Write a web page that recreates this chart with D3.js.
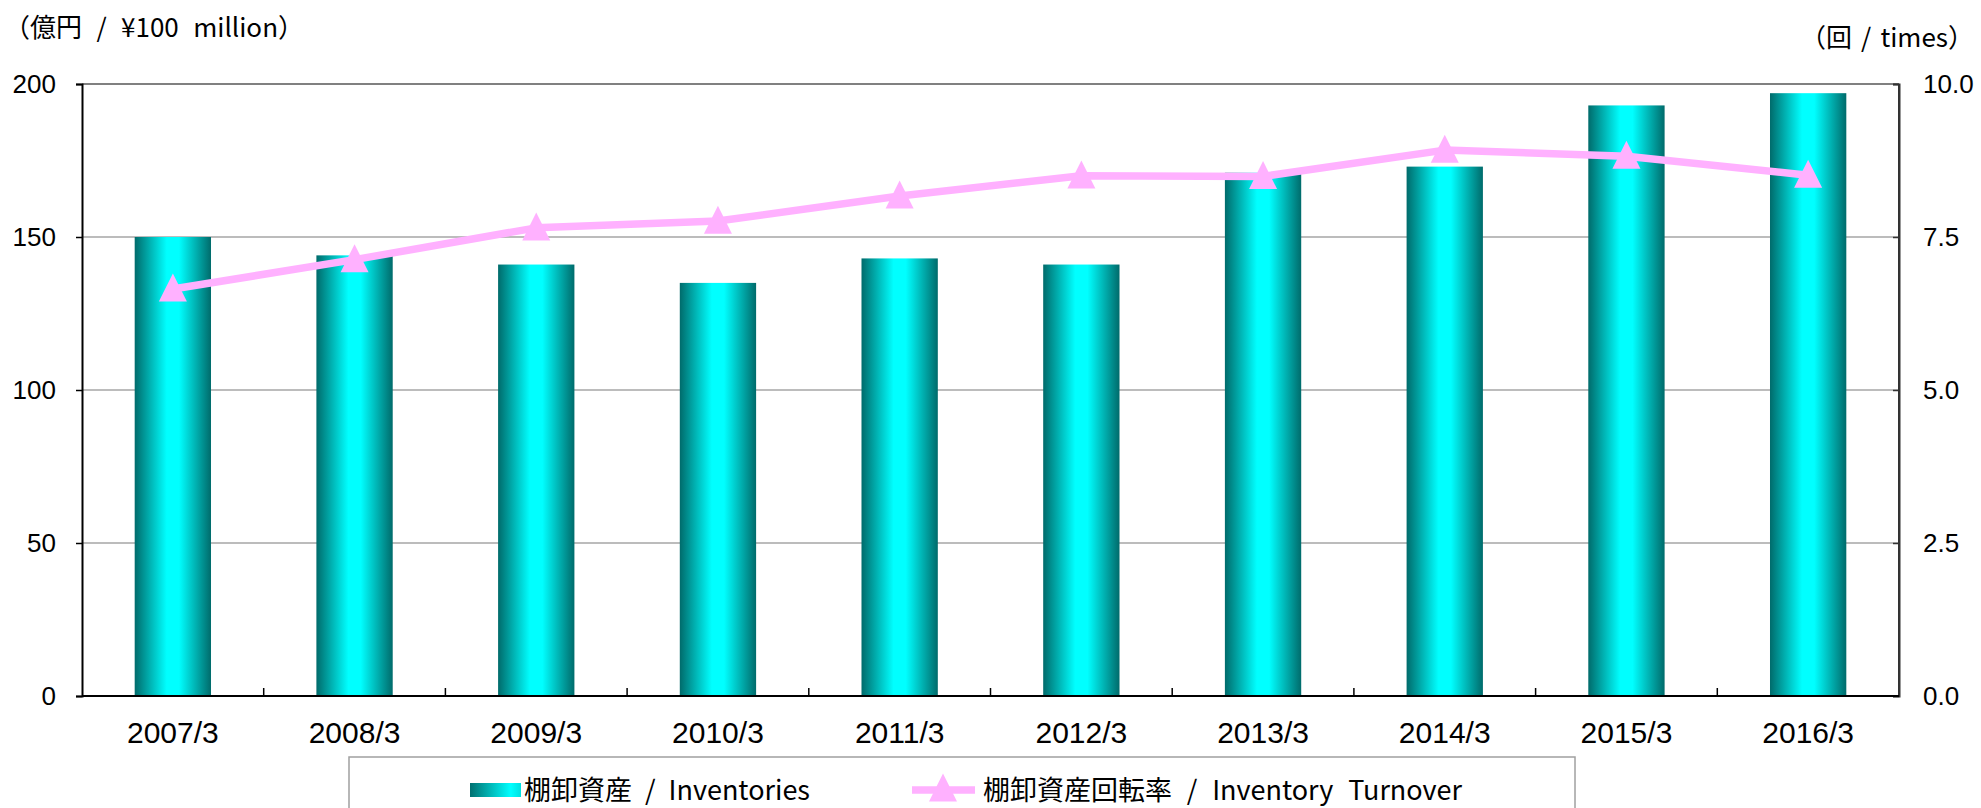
<html>
<head>
<meta charset="utf-8">
<script src="https://d3js.org/d3.v7.min.js"></script>
<style>
  body { margin: 0; background: #fff; }
  text { font-family: "Liberation Sans", Arial, sans-serif; fill: #000; }
  text.jp { font-family: "Noto Sans CJK JP", sans-serif; }
  text.narrow { font-family: "Liberation Sans Narrow", "Liberation Sans", sans-serif; }
</style>
</head>
<body>
<svg width="1981" height="808" id="chart"></svg>
<script>

// data
var categories = ["2007/3", "2008/3", "2009/3", "2010/3", "2011/3", "2012/3", "2013/3", "2014/3", "2015/3", "2016/3"];
var inventories = [150, 144, 141, 135, 143, 141, 171, 173, 193, 197];   // 億円
var turnover = [6.65, 7.13, 7.65, 7.76, 8.17, 8.50, 8.49, 8.92, 8.82, 8.51]; // 回
var leftTicks = [0, 50, 100, 150, 200];
var rightTicks = [0, 2.5, 5, 7.5, 10];

var plotLeft = 82, plotRight = 1899, plotTop = 84, plotBottom = 696;

var svg = d3.select("#chart");

var x = d3.scaleBand().domain(categories).range([plotLeft, plotRight])
  .paddingInner(0.58).paddingOuter(0.29);
var y = d3.scaleLinear().domain([0, 200]).range([plotBottom, plotTop]);
var y2 = d3.scaleLinear().domain([0, 10]).range([plotBottom, plotTop]);

// stretch the spaces of a text so it takes a given width
function fitWidth(sel, target) {
  var node = sel.node();
  var spaces = (sel.text().match(/ /g) || []).length;
  var extra = target - node.getComputedTextLength();
  if (spaces > 0 && extra > 0) sel.attr("word-spacing", extra / spaces);
  return sel;
}

// gradients
var defs = svg.append("defs");
var g1 = defs.append("linearGradient").attr("id", "barGrad")
  .attr("x1", "0").attr("x2", "1").attr("y1", "0").attr("y2", "0");
g1.append("stop").attr("offset", "0%").attr("stop-color", "#006b6b");
g1.append("stop").attr("offset", "42%").attr("stop-color", "#00ffff");
g1.append("stop").attr("offset", "58%").attr("stop-color", "#00ffff");
g1.append("stop").attr("offset", "100%").attr("stop-color", "#006b6b");

var g2 = defs.append("linearGradient").attr("id", "legGrad")
  .attr("x1", "0").attr("x2", "1").attr("y1", "0").attr("y2", "0");
g2.append("stop").attr("offset", "0%").attr("stop-color", "#007070");
g2.append("stop").attr("offset", "80%").attr("stop-color", "#00ffff");
g2.append("stop").attr("offset", "100%").attr("stop-color", "#00e0e0");

// gridlines
svg.append("g")
  .selectAll("line")
  .data(leftTicks.slice(1, -1))
  .enter()
  .append("line")
    .attr("x1", plotLeft).attr("x2", plotRight)
    .attr("y1", function(d) { return y(d); })
    .attr("y2", function(d) { return y(d); })
    .attr("stroke", "#a6a6a6")
    .attr("stroke-width", 1.5);

// bars
svg.append("g")
  .selectAll("rect")
  .data(inventories)
  .enter()
  .append("rect")
    .attr("x", function(d, i) { return x(categories[i]); })
    .attr("y", function(d) { return y(d); })
    .attr("width", x.bandwidth())
    .attr("height", function(d) { return plotBottom - y(d); })
    .style("fill", "url(#barGrad)");

// frame
svg.append("line").attr("x1", plotLeft).attr("x2", plotRight).attr("y1", plotTop).attr("y2", plotTop)
  .attr("stroke", "#808080").attr("stroke-width", 2);
svg.append("line").attr("x1", plotRight).attr("x2", plotRight).attr("y1", plotTop).attr("y2", plotBottom)
  .attr("stroke", "#333").attr("stroke-width", 2);

// left axis
svg.append("g")
  .attr("transform", "translate(" + plotLeft + ",0)")
  .call(d3.axisLeft(y).tickValues(leftTicks).tickSize(6).tickPadding(20).tickFormat(d3.format("d")))
  .call(function(g) {
    g.select(".domain").attr("stroke", "#000").attr("stroke-width", 2);
    g.selectAll(".tick line").attr("stroke", "#000").attr("stroke-width", 1.5);
    g.selectAll("text").attr("font-size", 26).attr("font-family", "Liberation Sans, Arial, sans-serif").attr("fill", "#000");
  });

// right axis
svg.append("g")
  .attr("transform", "translate(" + plotRight + ",0)")
  .call(d3.axisRight(y2).tickValues(rightTicks).tickSize(-6).tickPadding(24).tickFormat(d3.format(".1f")))
  .call(function(g) {
    g.select(".domain").attr("stroke", "#333").attr("stroke-width", 2);
    g.selectAll(".tick line").attr("stroke", "#333").attr("stroke-width", 1.5);
    g.selectAll("text").attr("font-size", 26).attr("font-family", "Liberation Sans, Arial, sans-serif").attr("fill", "#000");
  });

// bottom axis: ticks between categories, pointing inward
var bottomAxis = svg.append("g");
bottomAxis.append("line").attr("x1", plotLeft).attr("x2", plotRight)
  .attr("y1", plotBottom).attr("y2", plotBottom).attr("stroke", "#000").attr("stroke-width", 2);
bottomAxis.selectAll("line.sep")
  .data(categories.slice(1))
  .enter()
  .append("line")
    .attr("class", "sep")
    .attr("x1", function(d) { return x(d) - x.step() * x.paddingInner() / 2; })
    .attr("x2", function(d) { return x(d) - x.step() * x.paddingInner() / 2; })
    .attr("y1", plotBottom).attr("y2", plotBottom - 8)
    .attr("stroke", "#000").attr("stroke-width", 1.5);
bottomAxis.selectAll("text")
  .data(categories)
  .enter()
  .append("text")
    .attr("class", "narrow")
    .attr("x", function(d) { return x(d) + x.bandwidth() / 2; })
    .attr("y", 743)
    .attr("text-anchor", "middle")
    .style("font-size", "30px")
    .text(function(d) { return d; });

// turnover line
var cx = function(d, i) { return x(categories[i]) + x.bandwidth() / 2; };
var line = d3.line()
  .x(cx)
  .y(function(d) { return y2(d); });

svg.append("path")
  .datum(turnover)
  .attr("d", line)
  .attr("fill", "none")
  .attr("stroke", "#ffb1ff")
  .attr("stroke-width", 7.5)
  .attr("stroke-linejoin", "round");

// triangle marker, roughly as wide as tall
var triangle = {
  draw: function(ctx, size) {
    var h = Math.sqrt(size), w = h;
    ctx.moveTo(0, -h * 0.55);
    ctx.lineTo(w / 2, h * 0.45);
    ctx.lineTo(-w / 2, h * 0.45);
    ctx.closePath();
  }
};
var tri = d3.symbol().type(triangle).size(784);
svg.append("g")
  .selectAll("path")
  .data(turnover)
  .enter()
  .append("path")
    .attr("d", tri)
    .attr("transform", function(d, i) { return "translate(" + cx(d, i) + "," + y2(d) + ")"; })
    .attr("fill", "#ffb1ff");

// axis titles
fitWidth(svg.append("text").attr("class", "jp")
  .attr("x", 4).attr("y", 37)
  .style("font-size", "26px")
  .text("（億円 / ¥100 million）"), 300);

fitWidth(svg.append("text").attr("class", "jp")
  .attr("x", 1800).attr("y", 47)
  .style("font-size", "26px")
  .text("（回 / times）"), 174);

// legend
var legend = svg.append("g");
legend.append("rect")
  .attr("x", 349).attr("y", 757).attr("width", 1226).attr("height", 70)
  .attr("fill", "#fff").attr("stroke", "#a0a0a0").attr("stroke-width", 1.5);

legend.append("rect")
  .attr("x", 470).attr("y", 783).attr("width", 51).attr("height", 14)
  .style("fill", "url(#legGrad)");
fitWidth(legend.append("text").attr("class", "jp")
  .attr("x", 524).attr("y", 800)
  .style("font-size", "27px")
  .text("棚卸資産 / Inventories"), 286);

legend.append("line")
  .attr("x1", 912).attr("x2", 975).attr("y1", 790).attr("y2", 790)
  .attr("stroke", "#ffb1ff").attr("stroke-width", 7.5);
legend.append("path")
  .attr("d", tri)
  .attr("transform", "translate(943,789)")
  .attr("fill", "#ffb1ff");
fitWidth(legend.append("text").attr("class", "jp")
  .attr("x", 983).attr("y", 800)
  .style("font-size", "27px")
  .text("棚卸資産回転率 / Inventory Turnover"), 479);

</script>
</body>
</html>
